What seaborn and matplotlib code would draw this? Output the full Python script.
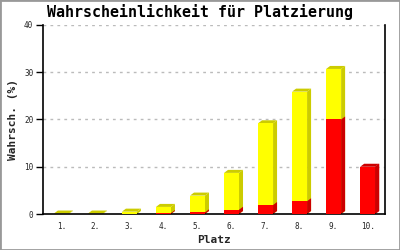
import matplotlib
matplotlib.use("Agg")
import matplotlib.pyplot as plt
from matplotlib.patches import Polygon, Rectangle
import seaborn as sns
import pandas as pd

# ---- data ----
places = ["1.", "2.", "3.", "4.", "5.", "6.", "7.", "8.", "9.", "10."]
red_vals = [0.0, 0.0, 0.0, 0.2, 0.35, 0.9, 1.9, 2.7, 20.0, 10.0]
yellow_vals = [0.1, 0.1, 0.5, 1.3, 3.55, 7.8, 17.3, 23.2, 10.7, 0.0]
y_ticks = [0, 10, 20, 30, 40]

title = "Wahrscheinlichkeit für Platzierung"
xlabel = "Platz"
ylabel = "Wahrsch. (%)"

YELLOW = "#ffff00"
YELLOW_D = "#cccc00"
RED = "#ff0000"
RED_D = "#cc0000"

df = pd.DataFrame({
    "Platz": places,
    "red": red_vals,
    "yellow": yellow_vals,
})
df["total"] = df["red"] + df["yellow"]

sns.set_style("white")
mono = ["DejaVu Sans Mono"]
plt.rcParams["font.family"] = mono

fig = plt.figure(figsize=(4, 2.5), dpi=100)
ax = fig.add_axes([43 / 400, 36 / 250, (385 - 43) / 400, (214 - 25) / 250])

bw = 0.44
sns.barplot(data=df, x="Platz", y="total", color=YELLOW, saturation=1,
            width=bw, ax=ax, zorder=3, linewidth=0)
sns.barplot(data=df, x="Platz", y="red", color=RED, saturation=1,
            width=bw, ax=ax, zorder=4, linewidth=0)

ax.set_xlim(-0.54, 9.51)
ax.set_ylim(0, 40)

# depth (pseudo-3D) derived from the drawn bars
px_x = 1.0 / 34.0        # data units per pixel horizontally
px_y = 40.0 / 189.0      # data units per pixel vertically
dx, dy = 4 * px_x, 3 * px_y
n = len(places)
front = ax.patches[:n]
for i, p in enumerate(front):
    x0 = p.get_x()
    x1 = x0 + p.get_width()
    top = p.get_height()
    r = red_vals[i]
    topc = YELLOW_D if yellow_vals[i] > 0 else RED_D
    ax.add_patch(Polygon([(x1, 0), (x1 + dx, dy), (x1 + dx, top + dy), (x1, top)],
                         closed=True, facecolor=topc, edgecolor="none", zorder=2))
    if r > 0:
        ax.add_patch(Polygon([(x1, 0), (x1 + dx, dy), (x1 + dx, r + dy), (x1, r)],
                             closed=True, facecolor=RED_D, edgecolor="none", zorder=2.5))
    ax.add_patch(Polygon([(x0, top), (x0 + dx, top + dy), (x1 + dx, top + dy), (x1, top)],
                         closed=True, facecolor=topc, edgecolor="none", zorder=2))

# axes styling
ax.set_yticks(y_ticks)
ax.set_yticklabels([str(t) for t in y_ticks], fontsize=5.5, family=mono)
ax.set_xticks(range(n))
ax.set_xticklabels(places, fontsize=5.5, family=mono)
ax.tick_params(axis="y", length=5, width=1, color="black", direction="out", pad=2, left=True)
ax.tick_params(axis="x", length=0, pad=6)
for t in y_ticks[1:]:
    ax.axhline(t, color="#bbbbbb", linestyle=(0, (2, 3)), linewidth=1, zorder=1)

for s in ["left", "bottom", "right"]:
    ax.spines[s].set_visible(True)
    ax.spines[s].set_color("black")
    ax.spines[s].set_linewidth(1.2)
ax.spines["top"].set_visible(False)

ax.set_xlabel(xlabel, fontsize=8, fontweight="bold", family=mono)
ax.set_ylabel(ylabel, fontsize=8, fontweight="bold", family=mono)
ax.yaxis.set_label_coords(-0.088, 0.5)
ax.xaxis.set_label_coords(0.5, -0.138)
ax.xaxis.label.set_va("center")
ax.yaxis.label.set_va("center")

fig.text(0.5, 0.952, title, ha="center", va="center", fontsize=10.8,
         fontweight="bold", family=mono, color="black")

fig.patches.append(Rectangle((0, 0), 1, 1, transform=fig.transFigure,
                             fill=False, edgecolor="#999999", linewidth=2))

fig.savefig("out.png", dpi=100, facecolor="white")
